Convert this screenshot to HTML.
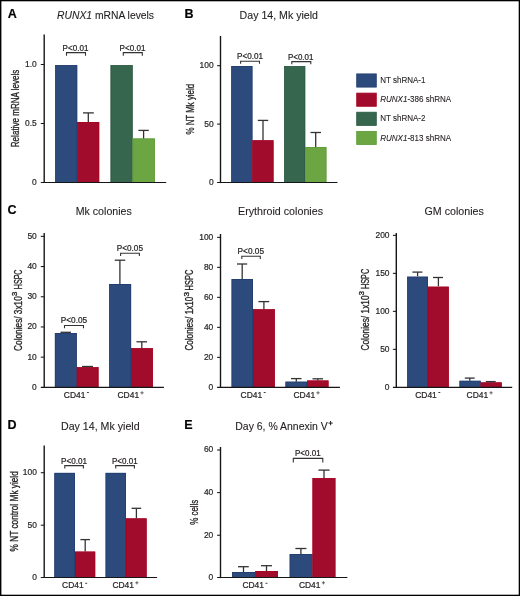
<!DOCTYPE html>
<html><head><meta charset="utf-8"><style>
html,body{margin:0;padding:0;background:#fff;}
body{width:520px;height:596px;overflow:hidden;}
svg{display:block;font-family:"Liberation Sans", sans-serif;will-change:transform;}
text{stroke:#231f20;stroke-width:0.22px;}
text.t{stroke-width:0.1px;}
text.y{stroke-width:0.32px;}
</style></head><body>
<svg width="520" height="596" viewBox="0 0 520 596">
<rect x="0" y="0" width="520" height="596" fill="#fff"/>
<text x="7.70" y="18.00" font-size="12.5" font-weight="bold" fill="#000" stroke="#000">A</text>
<text class="t" x="57" y="18.6" font-size="10.0" fill="#231f20" textLength="97" lengthAdjust="spacingAndGlyphs"><tspan font-style="italic">RUNX1</tspan> mRNA levels</text>
<text class="y" transform="translate(19.30,147.20) rotate(-90)" font-size="10.5" fill="#231f20" textLength="77.50" lengthAdjust="spacingAndGlyphs">Relative mRNA levels</text>
<rect x="55.20" y="65.10" width="22.00" height="117.40" fill="#2d4a7c"/>
<rect x="55.55" y="65.45" width="21.30" height="117.05" fill="none" stroke="#213d70" stroke-width="0.7"/>
<rect x="77.20" y="122.00" width="22.00" height="60.50" fill="#a10c2c"/>
<rect x="77.55" y="122.35" width="21.30" height="60.15" fill="none" stroke="#a80422" stroke-width="0.7"/>
<rect x="110.60" y="65.20" width="22.00" height="117.30" fill="#37664f"/>
<rect x="110.95" y="65.55" width="21.30" height="116.95" fill="none" stroke="#2b5742" stroke-width="0.7"/>
<rect x="132.60" y="138.50" width="22.30" height="44.00" fill="#6ba643"/>
<rect x="132.95" y="138.85" width="21.60" height="43.65" fill="none" stroke="#5c9c38" stroke-width="0.7"/>
<line x1="44.20" y1="34.60" x2="44.20" y2="183.10" stroke="#161616" stroke-width="1.4"/>
<line x1="40.80" y1="182.50" x2="166.20" y2="182.50" stroke="#161616" stroke-width="1.2"/>
<text transform="translate(36.80,184.95) scale(0.86,1)" font-size="9.8" text-anchor="end" fill="#231f20">0</text>
<line x1="40.80" y1="123.50" x2="44.20" y2="123.50" stroke="#161616" stroke-width="1.05"/>
<text transform="translate(36.80,125.95) scale(0.86,1)" font-size="9.8" text-anchor="end" fill="#231f20">0.5</text>
<line x1="40.80" y1="64.50" x2="44.20" y2="64.50" stroke="#161616" stroke-width="1.05"/>
<text transform="translate(36.80,66.95) scale(0.86,1)" font-size="9.8" text-anchor="end" fill="#231f20">1.0</text>
<line x1="88.30" y1="112.90" x2="88.30" y2="122.00" stroke="#333333" stroke-width="1.3"/>
<line x1="83.00" y1="112.90" x2="93.80" y2="112.90" stroke="#333333" stroke-width="1.3"/>
<line x1="143.60" y1="130.40" x2="143.60" y2="138.50" stroke="#333333" stroke-width="1.3"/>
<line x1="138.40" y1="130.40" x2="148.80" y2="130.40" stroke="#333333" stroke-width="1.3"/>
<text x="62.60" y="50.60" font-size="8.6" font-weight="normal" text-anchor="start" fill="#231f20" textLength="25.80" lengthAdjust="spacingAndGlyphs">P&lt;0.01</text>
<path d="M66.50,55.80 L66.50,52.60 L85.50,52.60 L85.50,55.80" fill="none" stroke="#333333" stroke-width="1.1"/>
<text x="119.60" y="50.60" font-size="8.6" font-weight="normal" text-anchor="start" fill="#231f20" textLength="25.80" lengthAdjust="spacingAndGlyphs">P&lt;0.01</text>
<path d="M123.30,55.80 L123.30,52.60 L142.30,52.60 L142.30,55.80" fill="none" stroke="#333333" stroke-width="1.1"/>
<text x="184.40" y="18.00" font-size="12.5" font-weight="bold" fill="#000" stroke="#000">B</text>
<text x="239.60" y="18.60" font-size="10.0" font-weight="normal" text-anchor="start" fill="#231f20" textLength="78.40" lengthAdjust="spacingAndGlyphs" class="t">Day 14, Mk yield</text>
<text class="y" transform="translate(193.50,134.50) rotate(-90)" font-size="10.5" fill="#231f20" textLength="50.60" lengthAdjust="spacingAndGlyphs">% NT Mk yield</text>
<rect x="231.30" y="66.00" width="21.10" height="116.50" fill="#2d4a7c"/>
<rect x="231.65" y="66.35" width="20.40" height="116.15" fill="none" stroke="#213d70" stroke-width="0.7"/>
<rect x="252.40" y="140.30" width="21.10" height="42.20" fill="#a10c2c"/>
<rect x="252.75" y="140.65" width="20.40" height="41.85" fill="none" stroke="#a80422" stroke-width="0.7"/>
<rect x="284.20" y="66.20" width="21.00" height="116.30" fill="#37664f"/>
<rect x="284.55" y="66.55" width="20.30" height="115.95" fill="none" stroke="#2b5742" stroke-width="0.7"/>
<rect x="305.20" y="147.00" width="21.20" height="35.50" fill="#6ba643"/>
<rect x="305.55" y="147.35" width="20.50" height="35.15" fill="none" stroke="#5c9c38" stroke-width="0.7"/>
<line x1="220.50" y1="36.00" x2="220.50" y2="183.10" stroke="#161616" stroke-width="1.4"/>
<line x1="217.10" y1="182.50" x2="337.50" y2="182.50" stroke="#161616" stroke-width="1.2"/>
<text transform="translate(213.60,184.95) scale(0.86,1)" font-size="9.8" text-anchor="end" fill="#231f20">0</text>
<line x1="217.10" y1="124.10" x2="220.50" y2="124.10" stroke="#161616" stroke-width="1.05"/>
<text transform="translate(213.60,126.55) scale(0.86,1)" font-size="9.8" text-anchor="end" fill="#231f20">50</text>
<line x1="217.10" y1="65.70" x2="220.50" y2="65.70" stroke="#161616" stroke-width="1.05"/>
<text transform="translate(213.60,68.15) scale(0.86,1)" font-size="9.8" text-anchor="end" fill="#231f20">100</text>
<line x1="263.00" y1="120.40" x2="263.00" y2="140.30" stroke="#333333" stroke-width="1.3"/>
<line x1="257.80" y1="120.40" x2="268.20" y2="120.40" stroke="#333333" stroke-width="1.3"/>
<line x1="315.70" y1="132.50" x2="315.70" y2="147.00" stroke="#333333" stroke-width="1.3"/>
<line x1="310.50" y1="132.50" x2="321.00" y2="132.50" stroke="#333333" stroke-width="1.3"/>
<text x="237.00" y="59.20" font-size="8.6" font-weight="normal" text-anchor="start" fill="#231f20" textLength="26.00" lengthAdjust="spacingAndGlyphs">P&lt;0.01</text>
<path d="M240.60,63.80 L240.60,61.20 L259.50,61.20 L259.50,63.80" fill="none" stroke="#333333" stroke-width="1.1"/>
<text x="288.00" y="59.70" font-size="8.6" font-weight="normal" text-anchor="start" fill="#231f20" textLength="25.40" lengthAdjust="spacingAndGlyphs">P&lt;0.01</text>
<path d="M291.80,64.20 L291.80,61.60 L310.80,61.60 L310.80,64.20" fill="none" stroke="#333333" stroke-width="1.1"/>
<rect x="356.7" y="73.90" width="19.6" height="13.2" fill="#2d4a7c" stroke="#213d70" stroke-width="0.8"/>
<text class="t" x="380.2" y="83.10" font-size="8.9" fill="#231f20" textLength="45.3" lengthAdjust="spacingAndGlyphs">NT shRNA-1</text>
<rect x="356.7" y="93.10" width="19.6" height="13.2" fill="#a10c2c" stroke="#a80422" stroke-width="0.8"/>
<text class="t" x="380.2" y="102.30" font-size="8.9" fill="#231f20" textLength="71" lengthAdjust="spacingAndGlyphs"><tspan font-style="italic">RUNX1</tspan>-386 shRNA</text>
<rect x="356.7" y="112.20" width="19.6" height="13.2" fill="#37664f" stroke="#2b5742" stroke-width="0.8"/>
<text class="t" x="380.2" y="121.40" font-size="8.9" fill="#231f20" textLength="45.3" lengthAdjust="spacingAndGlyphs">NT shRNA-2</text>
<rect x="356.7" y="131.40" width="19.6" height="13.2" fill="#6ba643" stroke="#5c9c38" stroke-width="0.8"/>
<text class="t" x="380.2" y="140.60" font-size="8.9" fill="#231f20" textLength="71" lengthAdjust="spacingAndGlyphs"><tspan font-style="italic">RUNX1</tspan>-813 shRNA</text>
<text x="7.40" y="214.40" font-size="12.5" font-weight="bold" fill="#000" stroke="#000">C</text>
<text x="75.70" y="214.70" font-size="10.3" font-weight="normal" text-anchor="start" fill="#231f20" textLength="56.10" lengthAdjust="spacingAndGlyphs" class="t">Mk colonies</text>
<text class="y" transform="translate(21.50,350.90) rotate(-90)" font-size="10.5" fill="#231f20" textLength="54.70" lengthAdjust="spacingAndGlyphs">Colonies/ 3x10</text>
<text class="y" transform="translate(16.90,295.90) rotate(-90)" font-size="6.3" fill="#231f20" textLength="4.30" lengthAdjust="spacingAndGlyphs">3</text>
<text class="y" transform="translate(21.50,289.20) rotate(-90)" font-size="10.5" fill="#231f20" textLength="19.70" lengthAdjust="spacingAndGlyphs">HSPC</text>
<rect x="54.90" y="333.00" width="21.90" height="54.35" fill="#2d4a7c"/>
<rect x="55.25" y="333.35" width="21.20" height="54.00" fill="none" stroke="#213d70" stroke-width="0.7"/>
<rect x="76.80" y="367.20" width="21.70" height="20.15" fill="#a10c2c"/>
<rect x="77.15" y="367.55" width="21.00" height="19.80" fill="none" stroke="#a80422" stroke-width="0.7"/>
<rect x="109.20" y="284.00" width="21.90" height="103.35" fill="#2d4a7c"/>
<rect x="109.55" y="284.35" width="21.20" height="103.00" fill="none" stroke="#213d70" stroke-width="0.7"/>
<rect x="131.10" y="348.20" width="21.80" height="39.15" fill="#a10c2c"/>
<rect x="131.45" y="348.55" width="21.10" height="38.80" fill="none" stroke="#a80422" stroke-width="0.7"/>
<line x1="44.20" y1="233.00" x2="44.20" y2="387.95" stroke="#161616" stroke-width="1.4"/>
<line x1="40.80" y1="387.35" x2="163.90" y2="387.35" stroke="#161616" stroke-width="1.2"/>
<text transform="translate(36.80,389.80) scale(0.86,1)" font-size="9.8" text-anchor="end" fill="#231f20">0</text>
<line x1="40.80" y1="357.15" x2="44.20" y2="357.15" stroke="#161616" stroke-width="1.05"/>
<text transform="translate(36.80,359.60) scale(0.86,1)" font-size="9.8" text-anchor="end" fill="#231f20">10</text>
<line x1="40.80" y1="326.95" x2="44.20" y2="326.95" stroke="#161616" stroke-width="1.05"/>
<text transform="translate(36.80,329.40) scale(0.86,1)" font-size="9.8" text-anchor="end" fill="#231f20">20</text>
<line x1="40.80" y1="296.75" x2="44.20" y2="296.75" stroke="#161616" stroke-width="1.05"/>
<text transform="translate(36.80,299.20) scale(0.86,1)" font-size="9.8" text-anchor="end" fill="#231f20">30</text>
<line x1="40.80" y1="266.55" x2="44.20" y2="266.55" stroke="#161616" stroke-width="1.05"/>
<text transform="translate(36.80,269.00) scale(0.86,1)" font-size="9.8" text-anchor="end" fill="#231f20">40</text>
<line x1="40.80" y1="236.35" x2="44.20" y2="236.35" stroke="#161616" stroke-width="1.05"/>
<text transform="translate(36.80,238.80) scale(0.86,1)" font-size="9.8" text-anchor="end" fill="#231f20">50</text>
<line x1="65.80" y1="332.30" x2="65.80" y2="333.00" stroke="#333333" stroke-width="1.3"/>
<line x1="60.50" y1="332.30" x2="71.00" y2="332.30" stroke="#333333" stroke-width="1.3"/>
<line x1="87.60" y1="366.50" x2="87.60" y2="367.20" stroke="#333333" stroke-width="1.3"/>
<line x1="82.00" y1="366.50" x2="93.00" y2="366.50" stroke="#333333" stroke-width="1.3"/>
<line x1="119.90" y1="260.20" x2="119.90" y2="284.00" stroke="#333333" stroke-width="1.3"/>
<line x1="114.75" y1="260.20" x2="125.25" y2="260.20" stroke="#333333" stroke-width="1.3"/>
<line x1="141.80" y1="341.80" x2="141.80" y2="348.20" stroke="#333333" stroke-width="1.3"/>
<line x1="136.50" y1="341.80" x2="147.00" y2="341.80" stroke="#333333" stroke-width="1.3"/>
<text x="60.80" y="323.20" font-size="8.6" font-weight="normal" text-anchor="start" fill="#231f20" textLength="26.40" lengthAdjust="spacingAndGlyphs">P&lt;0.05</text>
<path d="M64.50,328.30 L64.50,325.50 L83.50,325.50 L83.50,328.30" fill="none" stroke="#333333" stroke-width="1.1"/>
<text x="116.70" y="251.00" font-size="8.6" font-weight="normal" text-anchor="start" fill="#231f20" textLength="26.30" lengthAdjust="spacingAndGlyphs">P&lt;0.05</text>
<path d="M120.60,256.00 L120.60,253.30 L139.40,253.30 L139.40,256.00" fill="none" stroke="#333333" stroke-width="1.1"/>
<text x="63.80" y="398.00" font-size="9" fill="#231f20" textLength="21.6" lengthAdjust="spacingAndGlyphs">CD41</text>
<line x1="86.90" y1="392.50" x2="88.90" y2="392.50" stroke="#444" stroke-width="1.0"/>
<text x="117.50" y="398.00" font-size="9" fill="#231f20" textLength="21.6" lengthAdjust="spacingAndGlyphs">CD41</text>
<path d="M140.40,392.80 H143.60 M142.00,391.20 V394.40" stroke="#444" stroke-width="0.8" fill="none"/>
<text x="238.00" y="215.00" font-size="10.3" font-weight="normal" text-anchor="start" fill="#231f20" textLength="85.00" lengthAdjust="spacingAndGlyphs" class="t">Erythroid colonies</text>
<text class="y" transform="translate(193.30,350.60) rotate(-90)" font-size="10.5" fill="#231f20" textLength="53.90" lengthAdjust="spacingAndGlyphs">Colonies/ 1x10</text>
<text class="y" transform="translate(188.50,296.50) rotate(-90)" font-size="6.3" fill="#231f20" textLength="4.60" lengthAdjust="spacingAndGlyphs">3</text>
<text class="y" transform="translate(193.30,290.40) rotate(-90)" font-size="10.5" fill="#231f20" textLength="20.70" lengthAdjust="spacingAndGlyphs">HSPC</text>
<rect x="231.60" y="279.00" width="21.40" height="108.35" fill="#2d4a7c"/>
<rect x="231.95" y="279.35" width="20.70" height="108.00" fill="none" stroke="#213d70" stroke-width="0.7"/>
<rect x="253.00" y="309.30" width="21.80" height="78.05" fill="#a10c2c"/>
<rect x="253.35" y="309.65" width="21.10" height="77.70" fill="none" stroke="#a80422" stroke-width="0.7"/>
<rect x="285.50" y="381.70" width="21.50" height="5.65" fill="#2d4a7c"/>
<rect x="285.85" y="382.05" width="20.80" height="5.30" fill="none" stroke="#213d70" stroke-width="0.7"/>
<rect x="307.00" y="380.50" width="21.50" height="6.85" fill="#a10c2c"/>
<rect x="307.35" y="380.85" width="20.80" height="6.50" fill="none" stroke="#a80422" stroke-width="0.7"/>
<line x1="220.50" y1="234.00" x2="220.50" y2="387.95" stroke="#161616" stroke-width="1.4"/>
<line x1="217.10" y1="387.35" x2="339.90" y2="387.35" stroke="#161616" stroke-width="1.2"/>
<text transform="translate(213.30,389.80) scale(0.86,1)" font-size="9.8" text-anchor="end" fill="#231f20">0</text>
<line x1="217.10" y1="357.35" x2="220.50" y2="357.35" stroke="#161616" stroke-width="1.05"/>
<text transform="translate(213.30,359.80) scale(0.86,1)" font-size="9.8" text-anchor="end" fill="#231f20">20</text>
<line x1="217.10" y1="327.35" x2="220.50" y2="327.35" stroke="#161616" stroke-width="1.05"/>
<text transform="translate(213.30,329.80) scale(0.86,1)" font-size="9.8" text-anchor="end" fill="#231f20">40</text>
<line x1="217.10" y1="297.35" x2="220.50" y2="297.35" stroke="#161616" stroke-width="1.05"/>
<text transform="translate(213.30,299.80) scale(0.86,1)" font-size="9.8" text-anchor="end" fill="#231f20">60</text>
<line x1="217.10" y1="267.35" x2="220.50" y2="267.35" stroke="#161616" stroke-width="1.05"/>
<text transform="translate(213.30,269.80) scale(0.86,1)" font-size="9.8" text-anchor="end" fill="#231f20">80</text>
<line x1="217.10" y1="237.35" x2="220.50" y2="237.35" stroke="#161616" stroke-width="1.05"/>
<text transform="translate(213.30,239.80) scale(0.86,1)" font-size="9.8" text-anchor="end" fill="#231f20">100</text>
<line x1="242.20" y1="264.00" x2="242.20" y2="279.00" stroke="#333333" stroke-width="1.3"/>
<line x1="237.00" y1="264.00" x2="247.20" y2="264.00" stroke="#333333" stroke-width="1.3"/>
<line x1="263.90" y1="301.60" x2="263.90" y2="309.30" stroke="#333333" stroke-width="1.3"/>
<line x1="258.40" y1="301.60" x2="269.20" y2="301.60" stroke="#333333" stroke-width="1.3"/>
<line x1="296.30" y1="378.60" x2="296.30" y2="381.70" stroke="#333333" stroke-width="1.3"/>
<line x1="291.00" y1="378.60" x2="301.50" y2="378.60" stroke="#333333" stroke-width="1.3"/>
<line x1="317.80" y1="378.80" x2="317.80" y2="380.50" stroke="#333333" stroke-width="1.3"/>
<line x1="312.50" y1="378.80" x2="323.00" y2="378.80" stroke="#333333" stroke-width="1.3"/>
<text x="237.60" y="254.00" font-size="8.6" font-weight="normal" text-anchor="start" fill="#231f20" textLength="26.40" lengthAdjust="spacingAndGlyphs">P&lt;0.05</text>
<path d="M241.80,259.00 L241.80,256.20 L260.30,256.20 L260.30,259.00" fill="none" stroke="#333333" stroke-width="1.1"/>
<text x="240.60" y="398.00" font-size="9" fill="#231f20" textLength="21.6" lengthAdjust="spacingAndGlyphs">CD41</text>
<line x1="263.70" y1="392.50" x2="265.70" y2="392.50" stroke="#444" stroke-width="1.0"/>
<text x="293.50" y="398.00" font-size="9" fill="#231f20" textLength="21.6" lengthAdjust="spacingAndGlyphs">CD41</text>
<path d="M316.40,392.80 H319.60 M318.00,391.20 V394.40" stroke="#444" stroke-width="0.8" fill="none"/>
<text x="424.50" y="215.00" font-size="10.3" font-weight="normal" text-anchor="start" fill="#231f20" textLength="59.30" lengthAdjust="spacingAndGlyphs" class="t">GM colonies</text>
<text class="y" transform="translate(369.10,350.60) rotate(-90)" font-size="10.5" fill="#231f20" textLength="55.20" lengthAdjust="spacingAndGlyphs">Colonies/ 1x10</text>
<text class="y" transform="translate(364.30,295.20) rotate(-90)" font-size="6.3" fill="#231f20" textLength="4.20" lengthAdjust="spacingAndGlyphs">3</text>
<text class="y" transform="translate(369.10,289.10) rotate(-90)" font-size="10.5" fill="#231f20" textLength="20.30" lengthAdjust="spacingAndGlyphs">HSPC</text>
<rect x="407.20" y="276.70" width="20.80" height="110.65" fill="#2d4a7c"/>
<rect x="407.55" y="277.05" width="20.10" height="110.30" fill="none" stroke="#213d70" stroke-width="0.7"/>
<rect x="428.00" y="286.70" width="20.80" height="100.65" fill="#a10c2c"/>
<rect x="428.35" y="287.05" width="20.10" height="100.30" fill="none" stroke="#a80422" stroke-width="0.7"/>
<rect x="459.50" y="380.80" width="21.20" height="6.55" fill="#2d4a7c"/>
<rect x="459.85" y="381.15" width="20.50" height="6.20" fill="none" stroke="#213d70" stroke-width="0.7"/>
<rect x="480.70" y="382.40" width="21.00" height="4.95" fill="#a10c2c"/>
<rect x="481.05" y="382.75" width="20.30" height="4.60" fill="none" stroke="#a80422" stroke-width="0.7"/>
<line x1="396.30" y1="233.00" x2="396.30" y2="387.95" stroke="#161616" stroke-width="1.4"/>
<line x1="392.90" y1="387.35" x2="512.20" y2="387.35" stroke="#161616" stroke-width="1.2"/>
<text transform="translate(389.50,389.80) scale(0.86,1)" font-size="9.8" text-anchor="end" fill="#231f20">0</text>
<line x1="392.90" y1="349.35" x2="396.30" y2="349.35" stroke="#161616" stroke-width="1.05"/>
<text transform="translate(389.50,351.80) scale(0.86,1)" font-size="9.8" text-anchor="end" fill="#231f20">50</text>
<line x1="392.90" y1="311.35" x2="396.30" y2="311.35" stroke="#161616" stroke-width="1.05"/>
<text transform="translate(389.50,313.80) scale(0.86,1)" font-size="9.8" text-anchor="end" fill="#231f20">100</text>
<line x1="392.90" y1="273.35" x2="396.30" y2="273.35" stroke="#161616" stroke-width="1.05"/>
<text transform="translate(389.50,275.80) scale(0.86,1)" font-size="9.8" text-anchor="end" fill="#231f20">150</text>
<line x1="392.90" y1="235.35" x2="396.30" y2="235.35" stroke="#161616" stroke-width="1.05"/>
<text transform="translate(389.50,237.80) scale(0.86,1)" font-size="9.8" text-anchor="end" fill="#231f20">200</text>
<line x1="417.60" y1="272.10" x2="417.60" y2="276.30" stroke="#333333" stroke-width="1.3"/>
<line x1="412.40" y1="272.10" x2="422.40" y2="272.10" stroke="#333333" stroke-width="1.3"/>
<line x1="438.40" y1="277.50" x2="438.40" y2="286.20" stroke="#333333" stroke-width="1.3"/>
<line x1="433.00" y1="277.50" x2="443.00" y2="277.50" stroke="#333333" stroke-width="1.3"/>
<line x1="469.80" y1="378.10" x2="469.80" y2="380.80" stroke="#333333" stroke-width="1.3"/>
<line x1="464.80" y1="378.10" x2="474.70" y2="378.10" stroke="#333333" stroke-width="1.3"/>
<line x1="490.80" y1="381.60" x2="490.80" y2="382.40" stroke="#333333" stroke-width="1.3"/>
<line x1="485.80" y1="381.60" x2="495.70" y2="381.60" stroke="#333333" stroke-width="1.3"/>
<text x="415.20" y="398.00" font-size="9" fill="#231f20" textLength="21.6" lengthAdjust="spacingAndGlyphs">CD41</text>
<line x1="438.30" y1="392.50" x2="440.30" y2="392.50" stroke="#444" stroke-width="1.0"/>
<text x="466.60" y="398.00" font-size="9" fill="#231f20" textLength="21.6" lengthAdjust="spacingAndGlyphs">CD41</text>
<path d="M489.50,392.80 H492.70 M491.10,391.20 V394.40" stroke="#444" stroke-width="0.8" fill="none"/>
<text x="7.50" y="429.00" font-size="12.5" font-weight="bold" fill="#000" stroke="#000">D</text>
<text x="61.00" y="429.90" font-size="10.1" font-weight="normal" text-anchor="start" fill="#231f20" textLength="78.60" lengthAdjust="spacingAndGlyphs" class="t">Day 14, Mk yield</text>
<text class="y" transform="translate(17.60,551.40) rotate(-90)" font-size="10.5" fill="#231f20" textLength="80.20" lengthAdjust="spacingAndGlyphs">% NT control Mk yield</text>
<rect x="54.40" y="472.90" width="20.60" height="104.60" fill="#2d4a7c"/>
<rect x="54.75" y="473.25" width="19.90" height="104.25" fill="none" stroke="#213d70" stroke-width="0.7"/>
<rect x="75.00" y="551.60" width="20.20" height="25.90" fill="#a10c2c"/>
<rect x="75.35" y="551.95" width="19.50" height="25.55" fill="none" stroke="#a80422" stroke-width="0.7"/>
<rect x="105.60" y="472.90" width="20.40" height="104.60" fill="#2d4a7c"/>
<rect x="105.95" y="473.25" width="19.70" height="104.25" fill="none" stroke="#213d70" stroke-width="0.7"/>
<rect x="126.00" y="518.40" width="20.60" height="59.10" fill="#a10c2c"/>
<rect x="126.35" y="518.75" width="19.90" height="58.75" fill="none" stroke="#a80422" stroke-width="0.7"/>
<line x1="44.20" y1="445.60" x2="44.20" y2="578.10" stroke="#161616" stroke-width="1.4"/>
<line x1="40.80" y1="577.50" x2="157.10" y2="577.50" stroke="#161616" stroke-width="1.2"/>
<text transform="translate(36.90,579.95) scale(0.86,1)" font-size="9.8" text-anchor="end" fill="#231f20">0</text>
<line x1="40.80" y1="525.20" x2="44.20" y2="525.20" stroke="#161616" stroke-width="1.05"/>
<text transform="translate(36.90,527.65) scale(0.86,1)" font-size="9.8" text-anchor="end" fill="#231f20">50</text>
<line x1="40.80" y1="472.70" x2="44.20" y2="472.70" stroke="#161616" stroke-width="1.05"/>
<text transform="translate(36.90,475.15) scale(0.86,1)" font-size="9.8" text-anchor="end" fill="#231f20">100</text>
<line x1="85.20" y1="539.60" x2="85.20" y2="551.60" stroke="#333333" stroke-width="1.3"/>
<line x1="80.40" y1="539.60" x2="90.00" y2="539.60" stroke="#333333" stroke-width="1.3"/>
<line x1="136.40" y1="508.30" x2="136.40" y2="518.40" stroke="#333333" stroke-width="1.3"/>
<line x1="131.60" y1="508.30" x2="141.20" y2="508.30" stroke="#333333" stroke-width="1.3"/>
<text x="61.00" y="463.80" font-size="8.6" font-weight="normal" text-anchor="start" fill="#231f20" textLength="26.00" lengthAdjust="spacingAndGlyphs">P&lt;0.01</text>
<path d="M64.80,468.40 L64.80,465.60 L83.40,465.60 L83.40,468.40" fill="none" stroke="#333333" stroke-width="1.1"/>
<text x="112.00" y="463.80" font-size="8.6" font-weight="normal" text-anchor="start" fill="#231f20" textLength="25.60" lengthAdjust="spacingAndGlyphs">P&lt;0.01</text>
<path d="M115.70,468.40 L115.70,465.60 L134.40,465.60 L134.40,468.40" fill="none" stroke="#333333" stroke-width="1.1"/>
<text x="62.10" y="588.00" font-size="9" fill="#231f20" textLength="21.6" lengthAdjust="spacingAndGlyphs">CD41</text>
<line x1="85.20" y1="583.30" x2="87.20" y2="583.30" stroke="#444" stroke-width="1.0"/>
<text x="112.40" y="588.00" font-size="9" fill="#231f20" textLength="21.6" lengthAdjust="spacingAndGlyphs">CD41</text>
<path d="M135.30,582.80 H138.50 M136.90,581.20 V584.40" stroke="#444" stroke-width="0.8" fill="none"/>
<text x="184.30" y="429.00" font-size="12.5" font-weight="bold" fill="#000" stroke="#000">E</text>
<text class="t" x="235.3" y="429.7" font-size="10.1" fill="#231f20" textLength="92.4" lengthAdjust="spacingAndGlyphs">Day 6, % Annexin V</text>
<path d="M328.5,423.1 H332.7 M330.6,421 V425.2" stroke="#231f20" stroke-width="1.0" fill="none"/>
<text class="y" transform="translate(198.20,524.80) rotate(-90)" font-size="10.5" fill="#231f20" textLength="25.10" lengthAdjust="spacingAndGlyphs">% cells</text>
<rect x="232.00" y="572.00" width="23.20" height="5.50" fill="#2d4a7c"/>
<rect x="232.35" y="572.35" width="22.50" height="5.15" fill="none" stroke="#213d70" stroke-width="0.7"/>
<rect x="255.20" y="571.00" width="22.80" height="6.50" fill="#a10c2c"/>
<rect x="255.55" y="571.35" width="22.10" height="6.15" fill="none" stroke="#a80422" stroke-width="0.7"/>
<rect x="289.70" y="554.00" width="22.80" height="23.50" fill="#2d4a7c"/>
<rect x="290.05" y="554.35" width="22.10" height="23.15" fill="none" stroke="#213d70" stroke-width="0.7"/>
<rect x="312.50" y="478.10" width="22.90" height="99.40" fill="#a10c2c"/>
<rect x="312.85" y="478.45" width="22.20" height="99.05" fill="none" stroke="#a80422" stroke-width="0.7"/>
<line x1="220.50" y1="447.00" x2="220.50" y2="578.10" stroke="#161616" stroke-width="1.4"/>
<line x1="217.10" y1="577.50" x2="347.40" y2="577.50" stroke="#161616" stroke-width="1.2"/>
<text transform="translate(213.30,579.95) scale(0.86,1)" font-size="9.8" text-anchor="end" fill="#231f20">0</text>
<line x1="217.10" y1="535.25" x2="220.50" y2="535.25" stroke="#161616" stroke-width="1.05"/>
<text transform="translate(213.30,537.70) scale(0.86,1)" font-size="9.8" text-anchor="end" fill="#231f20">20</text>
<line x1="217.10" y1="492.60" x2="220.50" y2="492.60" stroke="#161616" stroke-width="1.05"/>
<text transform="translate(213.30,495.05) scale(0.86,1)" font-size="9.8" text-anchor="end" fill="#231f20">40</text>
<line x1="217.10" y1="450.00" x2="220.50" y2="450.00" stroke="#161616" stroke-width="1.05"/>
<text transform="translate(213.30,452.45) scale(0.86,1)" font-size="9.8" text-anchor="end" fill="#231f20">60</text>
<line x1="243.50" y1="566.70" x2="243.50" y2="572.00" stroke="#333333" stroke-width="1.3"/>
<line x1="238.00" y1="566.70" x2="248.80" y2="566.70" stroke="#333333" stroke-width="1.3"/>
<line x1="266.50" y1="565.70" x2="266.50" y2="571.00" stroke="#333333" stroke-width="1.3"/>
<line x1="261.00" y1="565.70" x2="272.00" y2="565.70" stroke="#333333" stroke-width="1.3"/>
<line x1="300.90" y1="548.50" x2="300.90" y2="554.00" stroke="#333333" stroke-width="1.3"/>
<line x1="295.40" y1="548.50" x2="306.40" y2="548.50" stroke="#333333" stroke-width="1.3"/>
<line x1="324.00" y1="470.10" x2="324.00" y2="478.00" stroke="#333333" stroke-width="1.3"/>
<line x1="318.40" y1="470.10" x2="329.60" y2="470.10" stroke="#333333" stroke-width="1.3"/>
<text x="295.00" y="456.00" font-size="8.6" font-weight="normal" text-anchor="start" fill="#231f20" textLength="25.60" lengthAdjust="spacingAndGlyphs">P&lt;0.01</text>
<path d="M293.30,462.40 L293.30,458.40 L322.80,458.40 L322.80,462.40" fill="none" stroke="#333333" stroke-width="1.1"/>
<text x="242.40" y="588.00" font-size="9" fill="#231f20" textLength="21.6" lengthAdjust="spacingAndGlyphs">CD41</text>
<line x1="265.50" y1="583.30" x2="267.50" y2="583.30" stroke="#444" stroke-width="1.0"/>
<text x="298.90" y="588.00" font-size="9" fill="#231f20" textLength="21.6" lengthAdjust="spacingAndGlyphs">CD41</text>
<path d="M321.80,582.80 H325.00 M323.40,581.20 V584.40" stroke="#444" stroke-width="0.8" fill="none"/>
<rect x="0" y="0" width="520" height="1.3" fill="#000"/><rect x="0" y="0" width="1.4" height="596" fill="#000"/><rect x="518.7" y="0" width="1.3" height="596" fill="#000"/><rect x="0" y="594.7" width="520" height="1.3" fill="#000"/>
</svg>
</body></html>
